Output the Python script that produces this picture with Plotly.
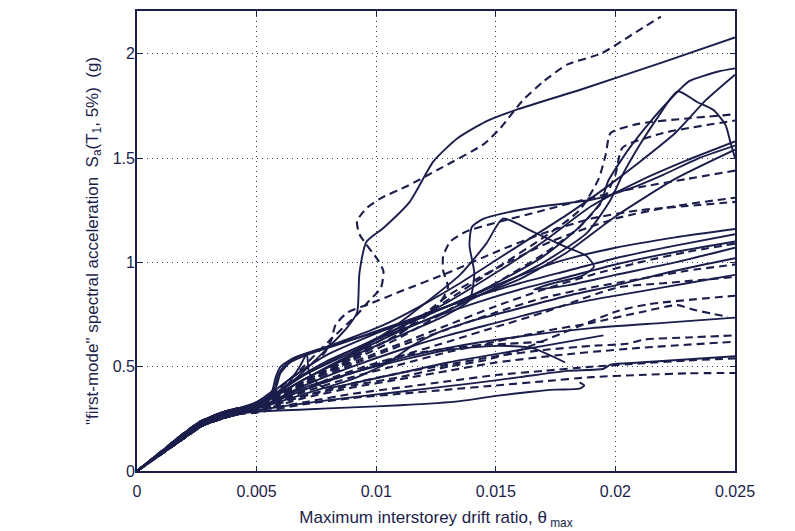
import plotly.graph_objects as go

# ---------------- data ----------------
x_ticks = [0, 0.005, 0.01, 0.015, 0.02, 0.025]
x_tick_labels = ["0", "0.005", "0.01", "0.015", "0.02", "0.025"]
y_ticks = [0, 0.5, 1, 1.5, 2]
y_tick_labels = ["0", "0.5", "1", "1.5", "2"]

# shared elastic branch (drift ratio) and slightly different Sa paths
stem_drift = [0, 0.001, 0.002, 0.0027, 0.0035, 0.0042]
stem_sa_a = [0, 0.086, 0.172, 0.228, 0.262, 0.283]
stem_sa_b = [0, 0.080, 0.160, 0.215, 0.250, 0.272]
stem_sa_c = [0, 0.092, 0.184, 0.240, 0.272, 0.294]
stem_sa_d = [0, 0.083, 0.168, 0.236, 0.278, 0.300]

# ---- solid IDA curves (tail after the elastic branch) ----
s01_x = [0.005, 0.0065, 0.0078, 0.0088, 0.0092, 0.0093, 0.0096, 0.0103, 0.0114, 0.0124, 0.0134, 0.0146, 0.0159, 0.0186, 0.022, 0.025]
s01_y = [0.31, 0.43, 0.57, 0.69, 0.76, 0.95, 1.10, 1.165, 1.29, 1.485, 1.595, 1.676, 1.733, 1.83, 1.96, 2.078]
s02_x = [0.005, 0.007, 0.009, 0.011, 0.013, 0.015, 0.017, 0.0185, 0.0194, 0.0197, 0.0206, 0.0215, 0.0222, 0.0227, 0.0231, 0.0243, 0.025]
s02_y = [0.32, 0.46, 0.58, 0.69, 0.79, 0.90, 1.03, 1.17, 1.29, 1.39, 1.55, 1.68, 1.77, 1.83, 1.87, 1.915, 1.93]
s03_x = [0.005, 0.007, 0.009, 0.011, 0.013, 0.015, 0.017, 0.0188, 0.0198, 0.0203, 0.021, 0.0218, 0.0226, 0.0234, 0.0241, 0.0246, 0.0248, 0.025]
s03_y = [0.31, 0.44, 0.56, 0.67, 0.77, 0.88, 1.00, 1.14, 1.30, 1.42, 1.56, 1.70, 1.82, 1.77, 1.73, 1.66, 1.58, 1.50]
s04_x = [0.005, 0.007, 0.009, 0.011, 0.013, 0.015, 0.017, 0.019, 0.021, 0.023, 0.025]
s04_y = [0.31, 0.46, 0.57, 0.69, 0.81, 0.95, 1.10, 1.27, 1.39, 1.49, 1.58]
s05_x = [0.005, 0.007, 0.009, 0.011, 0.0128, 0.0139, 0.0141, 0.0139, 0.014, 0.0145, 0.0155, 0.017, 0.019, 0.0205, 0.022, 0.0235, 0.025]
s05_y = [0.31, 0.44, 0.55, 0.65, 0.74, 0.82, 0.95, 1.08, 1.17, 1.21, 1.24, 1.27, 1.30, 1.35, 1.42, 1.50, 1.56]
s06_x = [0.005, 0.0065, 0.008, 0.010, 0.012, 0.014, 0.016, 0.018, 0.020, 0.0225, 0.025]
s06_y = [0.32, 0.45, 0.56, 0.66, 0.75, 0.83, 0.90, 0.96, 1.02, 1.08, 1.135]
s07_x = [0.005, 0.0065, 0.008, 0.010, 0.012, 0.014, 0.016, 0.018, 0.020, 0.0225, 0.025]
s07_y = [0.31, 0.43, 0.53, 0.63, 0.72, 0.80, 0.87, 0.93, 0.99, 1.05, 1.10]
s08_x = [0.005, 0.007, 0.009, 0.0105, 0.012, 0.0135, 0.0146, 0.0153, 0.0165, 0.0178, 0.0188, 0.0191, 0.0186, 0.0174, 0.0166, 0.018, 0.020, 0.0225, 0.025]
s08_y = [0.31, 0.44, 0.56, 0.67, 0.80, 0.94, 1.09, 1.21, 1.15, 1.08, 1.03, 0.98, 0.935, 0.90, 0.87, 0.89, 0.94, 1.00, 1.07]
s09_x = [0.005, 0.007, 0.009, 0.011, 0.013, 0.015, 0.017, 0.019, 0.021, 0.023, 0.025]
s09_y = [0.30, 0.41, 0.50, 0.58, 0.65, 0.71, 0.77, 0.82, 0.86, 0.90, 0.94]
s10_x = [0.005, 0.007, 0.009, 0.011, 0.013, 0.016, 0.019, 0.022, 0.025]
s10_y = [0.30, 0.39, 0.47, 0.54, 0.59, 0.645, 0.685, 0.71, 0.735]
s11_x = [0.005, 0.007, 0.009, 0.011, 0.0135, 0.015, 0.0165, 0.0175, 0.0185, 0.0187, 0.0185]
s11_y = [0.285, 0.295, 0.305, 0.315, 0.335, 0.36, 0.38, 0.39, 0.395, 0.41, 0.425]
s12_x = [0.005, 0.0056, 0.0058, 0.006, 0.0066, 0.0075, 0.009, 0.011, 0.013, 0.015, 0.0175, 0.020, 0.0225, 0.025]
s12_y = [0.33, 0.37, 0.45, 0.50, 0.545, 0.58, 0.63, 0.70, 0.79, 0.89, 1.00, 1.07, 1.12, 1.16]
s13_x = [0.005, 0.0057, 0.0059, 0.0062, 0.0068, 0.0078, 0.009, 0.0105, 0.012, 0.0135, 0.015, 0.0165, 0.018, 0.0195, 0.021, 0.0225, 0.0238, 0.025]
s13_y = [0.33, 0.38, 0.46, 0.51, 0.55, 0.59, 0.64, 0.71, 0.80, 0.90, 1.01, 1.12, 1.23, 1.35, 1.48, 1.62, 1.78, 1.90]
s14_x = [0.005, 0.0058, 0.006, 0.0064, 0.0072, 0.0085, 0.010, 0.012, 0.014, 0.016, 0.018, 0.020, 0.0225, 0.025]
s14_y = [0.33, 0.40, 0.47, 0.52, 0.56, 0.61, 0.67, 0.75, 0.83, 0.92, 1.05, 1.22, 1.40, 1.54]
s15_x = [0.005, 0.007, 0.009, 0.011, 0.013, 0.015, 0.0165, 0.0179]
s15_y = [0.30, 0.40, 0.47, 0.53, 0.58, 0.60, 0.59, 0.52]
s16_x = [0.005, 0.008, 0.011, 0.014, 0.016, 0.018, 0.0195, 0.0198, 0.021, 0.025]
s16_y = [0.29, 0.34, 0.38, 0.42, 0.45, 0.48, 0.49, 0.51, 0.52, 0.55]
s17_x = [0.005, 0.0062, 0.0068, 0.0071, 0.0072, 0.0078, 0.009, 0.011, 0.013, 0.015, 0.017, 0.0195]
s17_y = [0.31, 0.40, 0.50, 0.56, 0.47, 0.40, 0.42, 0.47, 0.52, 0.56, 0.60, 0.65]
s18_x = [0.005, 0.007, 0.009, 0.0105, 0.0115, 0.0125, 0.014, 0.016, 0.018, 0.020, 0.0225, 0.025]
s18_y = [0.30, 0.37, 0.44, 0.52, 0.60, 0.66, 0.72, 0.78, 0.84, 0.89, 0.96, 1.02]

# ---- dashed IDA curves ----
d01_x = [0.005, 0.0065, 0.008, 0.0092, 0.0097, 0.0102, 0.0103, 0.0101, 0.0093, 0.0092, 0.0096, 0.0102, 0.0113, 0.0127, 0.0145, 0.0152, 0.0161, 0.017, 0.018, 0.0194, 0.0207, 0.0219]
d01_y = [0.31, 0.45, 0.62, 0.75, 0.815, 0.879, 0.958, 1.006, 1.135, 1.198, 1.26, 1.308, 1.366, 1.452, 1.567, 1.645, 1.773, 1.868, 1.949, 2.001, 2.092, 2.178]
d02_x = [0.005, 0.007, 0.009, 0.011, 0.013, 0.015, 0.017, 0.0185, 0.0193, 0.0196, 0.0198, 0.021, 0.023, 0.025]
d02_y = [0.31, 0.43, 0.55, 0.68, 0.82, 0.97, 1.12, 1.25, 1.40, 1.52, 1.62, 1.665, 1.69, 1.71]
d03_x = [0.005, 0.007, 0.009, 0.011, 0.0125, 0.013, 0.0128, 0.0128, 0.0131, 0.0138, 0.015, 0.017, 0.019, 0.021, 0.023, 0.025]
d03_y = [0.31, 0.43, 0.54, 0.66, 0.78, 0.88, 0.96, 1.03, 1.10, 1.15, 1.19, 1.25, 1.31, 1.36, 1.40, 1.44]
d04_x = [0.005, 0.007, 0.009, 0.011, 0.013, 0.015, 0.0173, 0.020, 0.0225, 0.025]
d04_y = [0.31, 0.42, 0.54, 0.66, 0.84, 0.97, 1.10, 1.21, 1.27, 1.31]
d05_x = [0.005, 0.007, 0.009, 0.011, 0.013, 0.015, 0.017, 0.019, 0.021, 0.023, 0.025]
d05_y = [0.30, 0.41, 0.51, 0.60, 0.68, 0.76, 0.83, 0.88, 0.92, 0.96, 0.99]
d06_x = [0.005, 0.007, 0.009, 0.011, 0.013, 0.015, 0.017, 0.0201, 0.022, 0.025]
d06_y = [0.30, 0.39, 0.47, 0.55, 0.62, 0.69, 0.76, 0.88, 0.90, 0.93]
d07_x = [0.005, 0.007, 0.009, 0.011, 0.013, 0.0145, 0.0159, 0.0177, 0.0201, 0.0214, 0.025]
d07_y = [0.30, 0.36, 0.41, 0.45, 0.50, 0.53, 0.575, 0.657, 0.767, 0.80, 0.84]
d08_x = [0.005, 0.007, 0.009, 0.011, 0.013, 0.015, 0.017, 0.019, 0.021, 0.0226, 0.0232, 0.024, 0.0247]
d08_y = [0.30, 0.38, 0.45, 0.51, 0.57, 0.62, 0.67, 0.71, 0.76, 0.795, 0.775, 0.755, 0.74]
d09_x = [0.005, 0.007, 0.009, 0.011, 0.013, 0.015, 0.017, 0.019, 0.0205, 0.0212, 0.023, 0.025]
d09_y = [0.29, 0.36, 0.42, 0.47, 0.51, 0.55, 0.58, 0.60, 0.61, 0.63, 0.64, 0.65]
d10_x = [0.005, 0.007, 0.009, 0.011, 0.013, 0.015, 0.018, 0.021, 0.025]
d10_y = [0.29, 0.35, 0.40, 0.44, 0.48, 0.52, 0.56, 0.59, 0.62]
d11_x = [0.005, 0.007, 0.009, 0.011, 0.013, 0.015, 0.017, 0.019, 0.021, 0.023, 0.025]
d11_y = [0.29, 0.33, 0.37, 0.40, 0.43, 0.46, 0.48, 0.50, 0.515, 0.53, 0.54]
d12_x = [0.005, 0.007, 0.009, 0.011, 0.013, 0.015, 0.017, 0.019, 0.021, 0.023, 0.025]
d12_y = [0.28, 0.32, 0.35, 0.37, 0.39, 0.41, 0.43, 0.45, 0.46, 0.468, 0.47]
d13_x = [0.005, 0.0065, 0.0078, 0.0081, 0.0083, 0.0088, 0.0097, 0.011, 0.013, 0.015, 0.017, 0.019, 0.021, 0.023, 0.025]
d13_y = [0.32, 0.45, 0.56, 0.62, 0.70, 0.76, 0.80, 0.86, 0.95, 1.05, 1.14, 1.21, 1.25, 1.27, 1.29]
d14_x = [0.005, 0.007, 0.009, 0.011, 0.013, 0.015, 0.017, 0.019, 0.021, 0.023, 0.025]
d14_y = [0.31, 0.42, 0.52, 0.61, 0.70, 0.79, 0.87, 0.94, 1.00, 1.05, 1.09]
d15_x = [0.005, 0.007, 0.009, 0.011, 0.013, 0.015, 0.017, 0.0185, 0.0195, 0.0200, 0.0203, 0.022, 0.025]
d15_y = [0.31, 0.42, 0.53, 0.64, 0.77, 0.90, 1.04, 1.17, 1.30, 1.42, 1.55, 1.62, 1.68]
d16_x = [0.005, 0.0065, 0.008, 0.0095, 0.011, 0.0125, 0.014, 0.0155, 0.017]
d16_y = [0.30, 0.36, 0.44, 0.50, 0.55, 0.58, 0.60, 0.61, 0.62]

solid_curves = [
    (s01_x, s01_y, stem_sa_a), (s02_x, s02_y, stem_sa_c), (s03_x, s03_y, stem_sa_b),
    (s04_x, s04_y, stem_sa_d), (s05_x, s05_y, stem_sa_c), (s06_x, s06_y, stem_sa_b),
    (s07_x, s07_y, stem_sa_a), (s08_x, s08_y, stem_sa_d), (s09_x, s09_y, stem_sa_b),
    (s10_x, s10_y, stem_sa_a), (s11_x, s11_y, stem_sa_b), (s12_x, s12_y, stem_sa_c),
    (s13_x, s13_y, stem_sa_d), (s14_x, s14_y, stem_sa_c), (s15_x, s15_y, stem_sa_b),
    (s16_x, s16_y, stem_sa_b), (s17_x, s17_y, stem_sa_a), (s18_x, s18_y, stem_sa_d),
]
dashed_curves = [
    (d01_x, d01_y, stem_sa_c), (d02_x, d02_y, stem_sa_a), (d03_x, d03_y, stem_sa_b),
    (d04_x, d04_y, stem_sa_d), (d05_x, d05_y, stem_sa_a), (d06_x, d06_y, stem_sa_b),
    (d07_x, d07_y, stem_sa_a), (d08_x, d08_y, stem_sa_c), (d09_x, d09_y, stem_sa_b),
    (d10_x, d10_y, stem_sa_d), (d11_x, d11_y, stem_sa_b), (d12_x, d12_y, stem_sa_b),
    (d13_x, d13_y, stem_sa_c), (d14_x, d14_y, stem_sa_a), (d15_x, d15_y, stem_sa_d),
    (d16_x, d16_y, stem_sa_c),
]

INK = "#1b1e4b"
FONT = "Liberation Sans, Arial, sans-serif"

fig = go.Figure()
for cx, cy, st in solid_curves:
    fig.add_trace(go.Scatter(
        x=stem_drift + cx, y=st + cy, mode="lines",
        line=dict(color=INK, width=1.9, shape="spline", smoothing=0.6),
        showlegend=False, hoverinfo="skip"))
for cx, cy, st in dashed_curves:
    fig.add_trace(go.Scatter(
        x=stem_drift + cx, y=st + cy, mode="lines",
        line=dict(color=INK, width=2.1, dash="8px,5px", shape="spline", smoothing=0.6),
        showlegend=False, hoverinfo="skip"))

axis_common = dict(
    showline=True, linecolor=INK, linewidth=1.8, mirror="ticks",
    ticks="inside", ticklen=5, tickcolor=INK, tickwidth=1.2,
    showgrid=True, gridcolor="#3a3d5c", gridwidth=1, griddash="1px,4px",
    zeroline=False, tickfont=dict(family=FONT, size=16, color=INK),
)

# the page body adds an 8px offset, margins compensate for it
fig.update_layout(
    width=795, height=531,
    margin=dict(l=129, r=68, t=1, b=68),
    paper_bgcolor="white", plot_bgcolor="white",
    font=dict(family=FONT, color=INK),
    xaxis=dict(range=[0, 0.025], tickvals=x_ticks, ticktext=x_tick_labels,
               ticklabelstandoff=5,
               title=dict(text="Maximum interstorey drift ratio, θ<sub> max</sub>",
                          font=dict(family=FONT, size=17, color=INK), standoff=12),
               **axis_common),
    yaxis=dict(range=[0, 2.205], tickvals=y_ticks, ticktext=y_tick_labels,
               ticklabelstandoff=-3,
               title=dict(text="\"first-mode\" spectral acceleration  S<sub>a</sub>(T<sub>1</sub>, 5%)  (g)",
                          font=dict(family=FONT, size=17, color=INK), standoff=10),
               **axis_common),
)

fig.write_html("out.html")
